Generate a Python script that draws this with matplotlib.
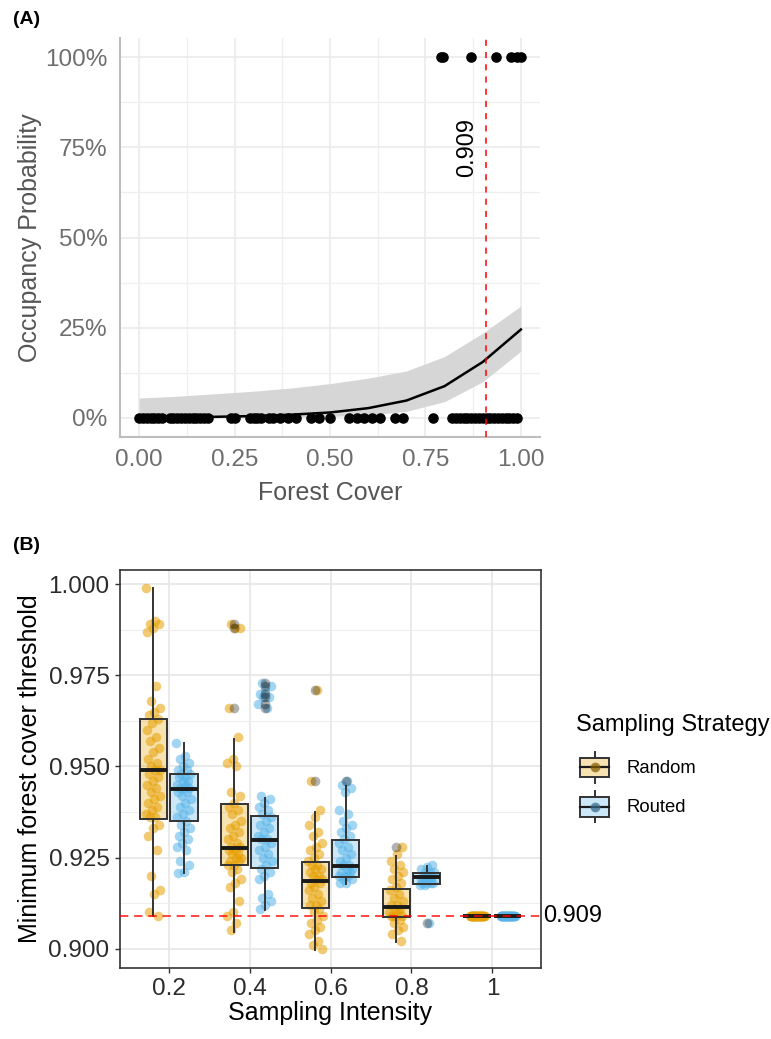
import numpy as np
import matplotlib
matplotlib.use('Agg')
import matplotlib.pyplot as plt
from matplotlib.colors import to_rgba
from matplotlib.patches import Rectangle, Patch
from matplotlib.lines import Line2D
from matplotlib.legend_handler import HandlerBase

plt.rcParams['font.family'] = ['Liberation Sans', 'DejaVu Sans']

# ---- panel A data ----
fit_x = [0.0, 0.1, 0.2, 0.3, 0.4, 0.5, 0.6, 0.7, 0.8, 0.9, 1.0]
fit_y = [0.001, 0.002, 0.003, 0.005, 0.009, 0.015, 0.027, 0.048, 0.088, 0.155, 0.245]
fit_lo = [0.0, 0.0, 0.0, 0.001, 0.002, 0.004, 0.008, 0.018, 0.045, 0.10, 0.185]
fit_hi = [0.055, 0.060, 0.067, 0.074, 0.083, 0.095, 0.110, 0.130, 0.170, 0.235, 0.310]

present_cover = [0.79, 0.795, 0.87, 0.935, 0.975, 0.99, 1.0]
absent_cover = [0.00, 0.01, 0.02, 0.03, 0.04, 0.05, 0.06, 0.08, 0.09, 0.10, 0.11, 0.12,
                0.13, 0.14, 0.15, 0.16, 0.17, 0.18, 0.24, 0.25, 0.29, 0.30, 0.31, 0.32,
                0.34, 0.35, 0.37, 0.39, 0.41, 0.45, 0.47, 0.50, 0.55, 0.57, 0.59, 0.61,
                0.63, 0.67, 0.69, 0.77, 0.82, 0.83, 0.84, 0.85, 0.86, 0.87, 0.88, 0.89,
                0.90, 0.91, 0.92, 0.93, 0.94, 0.95, 0.96, 0.97, 0.98, 0.99]
threshold = 0.909

pct_ticks = [0, 0.25, 0.5, 0.75, 1.0]
pct_labels = ['0%', '25%', '50%', '75%', '100%']
cover_ticks = [0, 0.25, 0.5, 0.75, 1.0]
cover_labels = ['0.00', '0.25', '0.50', '0.75', '1.00']

# ---- panel B data ----
intensity = ['0.2', '0.4', '0.6', '0.8', '1']
strategies = ['Random', 'Routed']

random_pts = [
    [0.999, 0.990, 0.989, 0.989, 0.988, 0.987, 0.972, 0.968, 0.966, 0.965, 0.964, 0.963,
     0.962, 0.960, 0.958, 0.957, 0.955, 0.954, 0.952, 0.951, 0.950, 0.949, 0.949, 0.948,
     0.947, 0.946, 0.945, 0.944, 0.943, 0.942, 0.941, 0.940, 0.939, 0.938, 0.937, 0.936,
     0.936, 0.934, 0.933, 0.931, 0.927, 0.920, 0.916, 0.915, 0.910, 0.909],
    [0.989, 0.988, 0.988, 0.966, 0.958, 0.952, 0.951, 0.950, 0.943, 0.942, 0.940, 0.939,
     0.938, 0.937, 0.935, 0.934, 0.933, 0.932, 0.931, 0.930, 0.929, 0.928, 0.928, 0.927,
     0.927, 0.926, 0.926, 0.925, 0.925, 0.924, 0.924, 0.923, 0.923, 0.922, 0.921, 0.919,
     0.918, 0.917, 0.913, 0.910, 0.909, 0.907, 0.905],
    [0.971, 0.946, 0.938, 0.936, 0.934, 0.932, 0.931, 0.929, 0.928, 0.927, 0.926, 0.925,
     0.924, 0.923, 0.923, 0.922, 0.922, 0.921, 0.920, 0.920, 0.919, 0.919, 0.918, 0.918,
     0.917, 0.916, 0.915, 0.914, 0.913, 0.912, 0.912, 0.911, 0.910, 0.909, 0.908, 0.907,
     0.906, 0.905, 0.904, 0.902, 0.901, 0.900],
    [0.928, 0.926, 0.924, 0.923, 0.922, 0.921, 0.920, 0.919, 0.918, 0.917, 0.916, 0.915,
     0.914, 0.913, 0.912, 0.912, 0.911, 0.911, 0.910, 0.910, 0.909, 0.909, 0.909, 0.909,
     0.908, 0.907, 0.906, 0.905, 0.904, 0.902],
    [0.909] * 40,
]
routed_pts = [
    [0.9565, 0.953, 0.952, 0.951, 0.950, 0.949, 0.949, 0.948, 0.948, 0.947, 0.947, 0.946,
     0.946, 0.945, 0.945, 0.944, 0.944, 0.944, 0.943, 0.943, 0.942, 0.941, 0.940, 0.939,
     0.938, 0.937, 0.936, 0.935, 0.934, 0.933, 0.932, 0.931, 0.930, 0.929, 0.928, 0.927,
     0.924, 0.923, 0.921, 0.9207],
    [0.973, 0.972, 0.971, 0.970, 0.969, 0.969, 0.967, 0.966, 0.942, 0.941, 0.940, 0.939,
     0.938, 0.937, 0.936, 0.935, 0.934, 0.933, 0.932, 0.931, 0.930, 0.930, 0.929, 0.928,
     0.927, 0.926, 0.925, 0.924, 0.923, 0.922, 0.921, 0.920, 0.919, 0.915, 0.914, 0.913,
     0.912, 0.911],
    [0.946, 0.945, 0.944, 0.943, 0.938, 0.937, 0.935, 0.934, 0.933, 0.932, 0.931, 0.930,
     0.929, 0.928, 0.927, 0.926, 0.925, 0.924, 0.923, 0.923, 0.922, 0.922, 0.921, 0.921,
     0.920, 0.920, 0.920, 0.919, 0.919, 0.918, 0.918],
    [0.923, 0.9225, 0.922, 0.921, 0.921, 0.921, 0.920, 0.920, 0.920, 0.920, 0.919, 0.919,
     0.919, 0.918, 0.918, 0.918, 0.918, 0.9175, 0.9175, 0.907],
    [0.909] * 40,
]

# box summaries
random_q1 = [0.9356, 0.9229, 0.9111, 0.9086, 0.909]
random_med = [0.9489, 0.9277, 0.9187, 0.9114, 0.909]
random_q3 = [0.9630, 0.9396, 0.9237, 0.9164, 0.909]
random_lo = [0.9090, 0.9047, 0.8997, 0.9018, 0.909]
random_hi = [0.9989, 0.9575, 0.9376, 0.9255, 0.909]
random_out = [[], [0.966, 0.988, 0.989], [0.946, 0.971], [0.928], []]

routed_q1 = [0.9350, 0.9221, 0.9196, 0.9177, 0.909]
routed_med = [0.9438, 0.9299, 0.9227, 0.9197, 0.909]
routed_q3 = [0.9479, 0.9364, 0.9298, 0.9207, 0.909]
routed_lo = [0.9207, 0.9107, 0.9177, 0.9177, 0.909]
routed_hi = [0.9565, 0.9413, 0.9445, 0.9226, 0.909]
routed_out = [[], [0.966, 0.967, 0.969, 0.970, 0.972, 0.973], [0.946], [0.907], []]

thr_ticks = [0.900, 0.925, 0.950, 0.975, 1.000]
thr_labels = ['0.900', '0.925', '0.950', '0.975', '1.000']

col_random = '#E69F00'
col_routed = '#56B4E9'

fig = plt.figure(figsize=(7.71, 10.39), dpi=100)

# ================= panel A =================
axA = fig.add_axes([120 / 771, 1 - 437 / 1039, 420 / 771, 399 / 1039])
axA.fill_between(fit_x, fit_lo, fit_hi, color='#D6D6D6', lw=0, zorder=2)
axA.plot(fit_x, fit_y, color='black', lw=1.8, zorder=3)
axA.scatter(absent_cover, [0] * len(absent_cover), s=58, color='black', lw=0, zorder=4)
axA.scatter(present_cover, [1] * len(present_cover), s=58, color='black', lw=0, zorder=4)
axA.axvline(threshold, color='red', lw=1.1, ls=(0, (4, 4)), zorder=5)
axA.text(0.858, 0.75, '0.909', rotation=90, ha='center', va='center', fontsize=17)

axA.set_xlim(-0.05, 1.05)
axA.set_ylim(-0.053, 1.053)
axA.set_xticks(cover_ticks)
axA.set_xticklabels(cover_labels)
axA.set_yticks(pct_ticks)
axA.set_yticklabels(pct_labels)
axA.set_xticks([0.125, 0.375, 0.625, 0.875], minor=True)
axA.set_yticks([0.125, 0.375, 0.625, 0.875], minor=True)
axA.grid(which='major', color='#EBEBEB', lw=1.2, zorder=0)
axA.grid(which='minor', color='#EFEFEF', lw=0.9, zorder=0)
axA.set_axisbelow(True)
axA.tick_params(which='both', length=0, labelsize=17.5, labelcolor='#6E6E6E', pad=9)
for s in ['top', 'right']:
    axA.spines[s].set_visible(False)
for s in ['left', 'bottom']:
    axA.spines[s].set_color('#BDBDBD')
    axA.spines[s].set_linewidth(1.5)
axA.set_xlabel('Forest Cover', fontsize=18, color='#555555')
axA.set_ylabel('Occupancy Probability', fontsize=18, color='#555555')
axA.xaxis.set_label_coords(0.5, -0.11)
axA.yaxis.set_label_coords(-0.186, 0.5)
fig.text(13 / 771, 1 - 20 / 1039, '(A)', fontsize=14, fontweight='bold', va='center')

# ================= panel B =================
axB = fig.add_axes([120 / 771, 1 - 968 / 1039, 421 / 771, 398 / 1039])
pos = np.arange(1, len(intensity) + 1)
dodge = 0.1875

groups = [
    (random_pts, random_q1, random_med, random_q3, random_lo, random_hi, random_out, col_random, -dodge),
    (routed_pts, routed_q1, routed_med, routed_q3, routed_lo, routed_hi, routed_out, col_routed, dodge),
]
for pts, q1, med, q3, lo, hi, out, col, off in groups:
    for k, vals in enumerate(pts):
        n = len(vals)
        jit = ((np.arange(n) * 0.6180339887 + 0.3 * k) % 1.0 - 0.5) * 0.18
        axB.scatter(pos[k] + off + jit, vals, s=48, color=col, alpha=0.55, lw=0, zorder=2)
    stats = []
    for k in range(len(intensity)):
        stats.append(dict(med=med[k], q1=q1[k], q3=q3[k], whislo=lo[k], whishi=hi[k], fliers=out[k]))
    bp = axB.bxp(stats, positions=pos + off, widths=0.34, patch_artist=True, showcaps=False,
                 manage_ticks=False,
                 boxprops=dict(facecolor=to_rgba(col, 0.3), edgecolor='#333333', linewidth=1.4),
                 medianprops=dict(color='#1A1A1A', linewidth=2.8, solid_capstyle='butt'),
                 whiskerprops=dict(color='#333333', linewidth=1.4),
                 flierprops=dict(marker='o', markerfacecolor='black', markeredgecolor='none',
                                 alpha=0.3, markersize=7))
    for part in ['boxes', 'medians', 'whiskers', 'fliers']:
        for a in bp[part]:
            a.set_zorder(3)

axB.axhline(threshold, color='red', lw=1.2, ls=(0, (5, 3.5)), alpha=0.85, zorder=6)
axB.text(1.006, threshold, '0.909', transform=axB.get_yaxis_transform(), ha='left',
         va='center', fontsize=17, clip_on=False)

axB.set_xlim(0.4, 5.6)
axB.set_ylim(0.8947, 1.0039)
axB.set_xticks(pos)
axB.set_xticklabels(intensity)
axB.set_yticks(thr_ticks)
axB.set_yticklabels(thr_labels)
axB.set_yticks([0.9125, 0.9375, 0.9625, 0.9875], minor=True)
axB.grid(which='major', color='#E6E6E6', lw=1.2, zorder=0)
axB.grid(which='minor', axis='y', color='#EEEEEE', lw=0.8, zorder=0)
axB.set_axisbelow(True)
axB.tick_params(which='major', length=3.5, width=1.0, color='#333333', labelsize=17.5,
                labelcolor='#2B2B2B', pad=4)
axB.tick_params(which='minor', length=0)
for s in axB.spines.values():
    s.set_color('#333333')
    s.set_linewidth(1.2)
axB.set_xlabel('Sampling Intensity', fontsize=18)
axB.set_ylabel('Minimum forest cover threshold', fontsize=18)
axB.xaxis.set_label_coords(0.5, -0.083)
axB.yaxis.set_label_coords(-0.186, 0.5)
fig.text(13 / 771, 1 - 545 / 1039, '(B)', fontsize=14, fontweight='bold', va='center')


# legend with box glyph keys
class BoxKey(HandlerBase):
    def __init__(self, colour):
        super().__init__()
        self.colour = colour

    def create_artists(self, legend, orig_handle, xd, yd, w, h, fontsize, trans):
        x0, y0 = -xd, -yd
        cx, cy = x0 + w / 2, y0 + h / 2
        rect = Rectangle((x0 + 0.04 * w, y0 + 0.18 * h), 0.92 * w, 0.64 * h,
                         facecolor=to_rgba(self.colour, 0.3), edgecolor='#333333', lw=1.4,
                         transform=trans)
        wt = Line2D([cx, cx], [y0 + 0.82 * h, y0 + h], color='#333333', lw=1.4, transform=trans)
        wb = Line2D([cx, cx], [y0, y0 + 0.18 * h], color='#333333', lw=1.4, transform=trans)
        md = Line2D([x0 + 0.04 * w, x0 + 0.96 * w], [cy, cy], color='#1A1A1A', lw=1.6, transform=trans)
        d1 = Line2D([cx], [cy], marker='o', ms=7, color=self.colour, alpha=0.6, mew=0, transform=trans)
        d2 = Line2D([cx], [cy], marker='o', ms=7, color='black', alpha=0.3, mew=0, transform=trans)
        return [rect, wt, wb, md, d1, d2]


fig.text(576 / 771, 1 - 725 / 1039, 'Sampling Strategy', fontsize=17, ha='left', va='center')
h_random = Patch(facecolor=col_random)
h_routed = Patch(facecolor=col_routed)
leg = axB.legend([h_random, h_routed], strategies,
                 handler_map={h_random: BoxKey(col_random), h_routed: BoxKey(col_routed)},
                 loc='upper left', bbox_to_anchor=(579 / 771, 1 - 752 / 1039),
                 bbox_transform=fig.transFigure, frameon=False, fontsize=13.3,
                 borderpad=0, borderaxespad=0,
                 handlelength=1.7, handleheight=2.2, handletextpad=0.85, labelspacing=0.45)

fig.savefig('out.png', dpi=100)
